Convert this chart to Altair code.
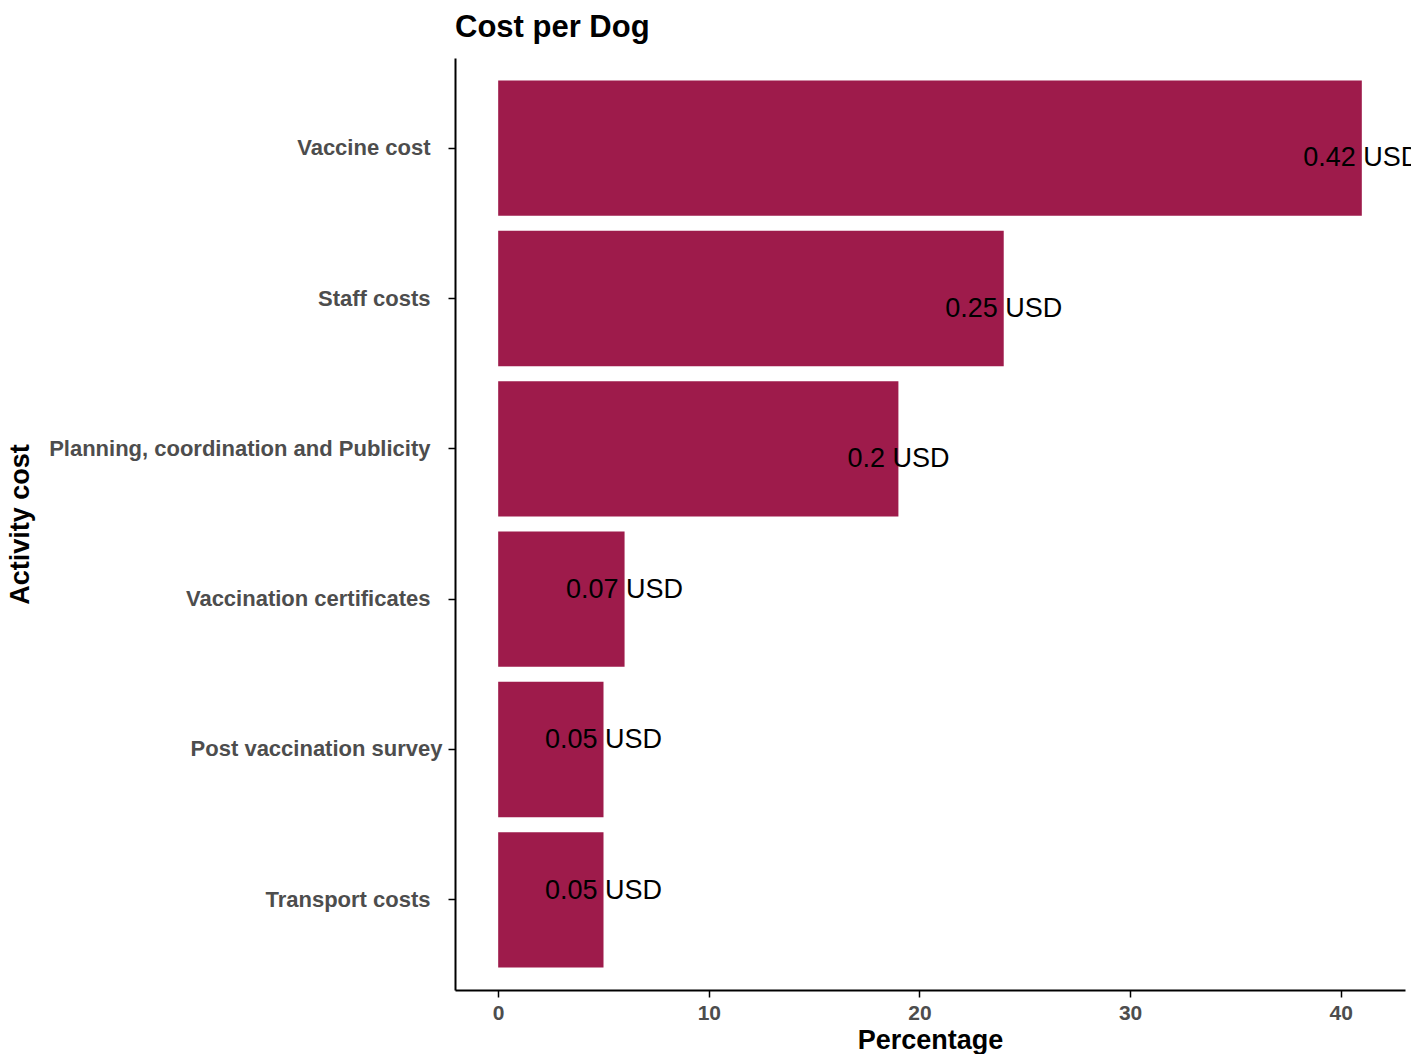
import altair as alt
import pandas as pd

activities = ["Vaccine cost", "Staff costs", "Planning, coordination and Publicity",
              "Vaccination certificates", "Post vaccination survey", "Transport costs"]
percentages = [41, 24, 19, 6, 5, 5]
labels = ["0.42 USD", "0.25 USD", "0.2 USD", "0.07 USD", "0.05 USD", "0.05 USD"]

df = pd.DataFrame({"activity": activities, "pct": percentages, "label": labels})

FONT = "Liberation Sans"

x = alt.X("pct:Q", title="Percentage",
          scale=alt.Scale(domain=[-2.05, 43.05], nice=False, zero=False),
          axis=alt.Axis(values=[0, 10, 20, 30, 40], grid=False, format="d",
                        labelFont=FONT, labelFontSize=21, labelFontWeight="bold",
                        labelColor="#4D4D4D", titleFont=FONT, titleFontSize=27,
                        titleFontWeight="bold", titleColor="black",
                        domainColor="black", domainWidth=2, tickColor="black",
                        tickWidth=1.5, tickSize=7, labelPadding=5, titlePadding=4))
y = alt.Y("activity:N", sort=activities, title="Activity cost",
          scale=alt.Scale(paddingInner=0.1, paddingOuter=0.15),
          axis=alt.Axis(labelFont=FONT, labelFontSize=22, labelFontWeight="bold",
                        labelColor="#4D4D4D", titleFont=FONT, titleFontSize=27,
                        titleFontWeight="bold", titleColor="black",
                        domainColor="black", domainWidth=2, tickColor="black",
                        tickWidth=1.5, tickSize=7,
                        labelPadding={"condition": {"test": "datum.label == 'Post vaccination survey'", "value": 6}, "value": 18},
                        labelLimit=600,
                        titleX=-435, titleY=466, titleAngle=-90,
                        titleAlign="center", titleBaseline="middle"))

bars = alt.Chart(df).mark_bar(color="#9E1B4B").encode(x=x, y=y)

text_hi = alt.Chart(df).transform_filter("datum.pct >= 10").mark_text(
    font=FONT, fontSize=27, color="black", align="center", baseline="middle", dy=10
).encode(x="pct:Q", y=alt.Y("activity:N", sort=activities), text="label:N")

text_lo = alt.Chart(df).transform_filter("datum.pct < 10").mark_text(
    font=FONT, fontSize=27, color="black", align="center", baseline="middle", dy=-9
).encode(x="pct:Q", y=alt.Y("activity:N", sort=activities), text="label:N")

chart = alt.layer(bars, text_hi, text_lo).properties(
    width=950, height=932,
    title=alt.TitleParams("Cost per Dog", font=FONT, fontSize=31, fontWeight="bold",
                          color="black", anchor="start", frame="group", offset=14),
    autosize=alt.AutoSizeParams(type="none"),
    padding={"left": 455, "top": 58, "right": 6, "bottom": 64},
).configure_view(stroke=None)

chart.save("out.html", embed_options={"renderer": "svg", "actions": False})
